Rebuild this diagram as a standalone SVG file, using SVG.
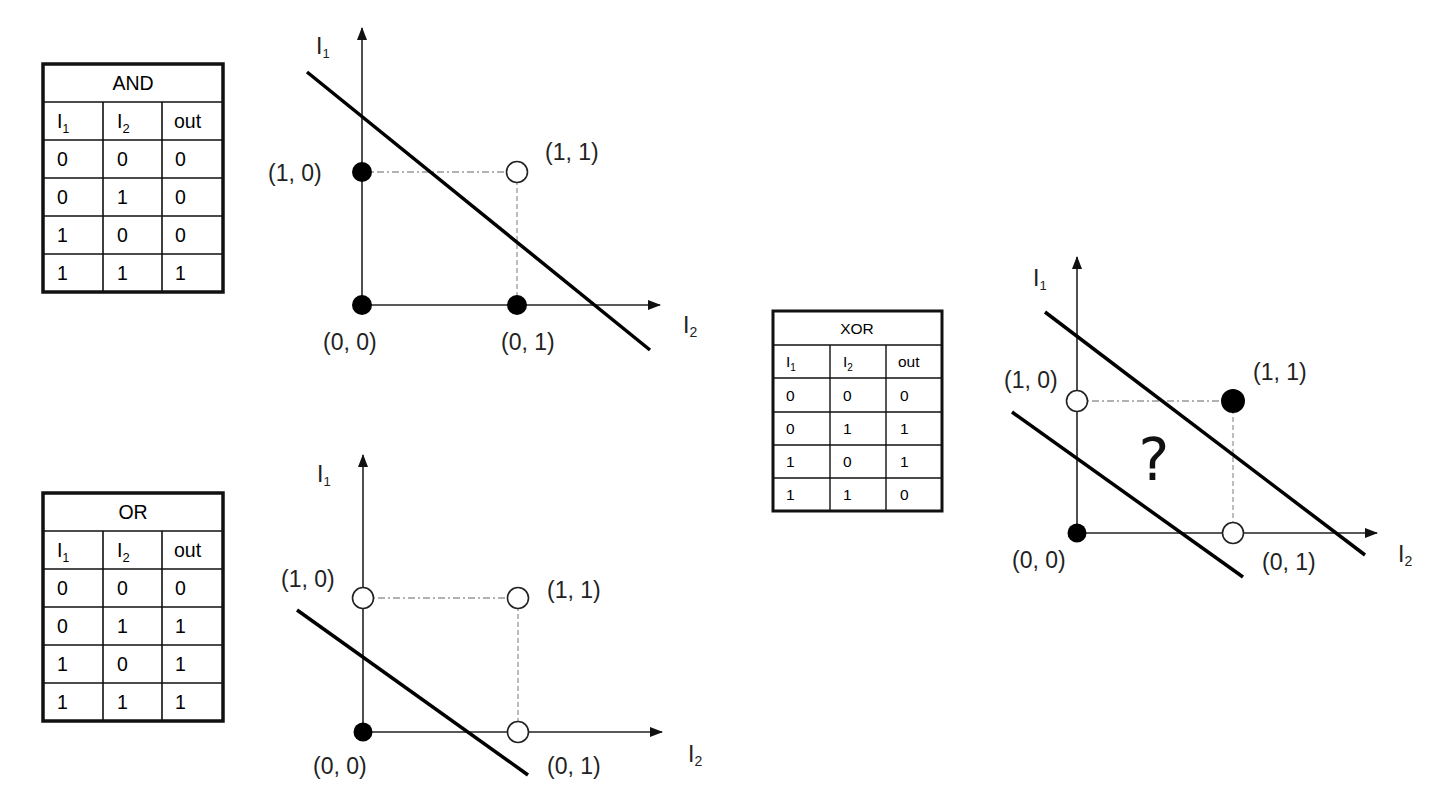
<svg xmlns="http://www.w3.org/2000/svg" width="1434" height="812" viewBox="0 0 1434 812">
<defs>
<marker id="arr" markerWidth="13" markerHeight="10" refX="12" refY="5" orient="auto" markerUnits="userSpaceOnUse">
<path d="M0,0 L13,5 L0,10 Z" fill="#111"/>
</marker>
<style>
.tb{fill:#fff;stroke:#111;stroke-width:3.5}
.tl{stroke:#111;stroke-width:1.6;fill:none}
.tt{font-family:"Liberation Sans",Arial,sans-serif;font-size:19.5px;fill:#000}
.ts{font-family:"Liberation Sans",Arial,sans-serif;font-size:15.5px;fill:#000}
.lab{font-family:"Liberation Sans",Arial,sans-serif;font-size:23px;fill:#222}
.ax{stroke:#222;stroke-width:1.6;fill:none}
.dl{stroke:#000;stroke-width:3.5;fill:none}
.dh{stroke:#999;stroke-width:1.3;stroke-dasharray:7 3 2 3;fill:none}
.dv{stroke:#999;stroke-width:1.3;stroke-dasharray:5 3;fill:none}
.on{fill:#000}
.off{fill:#fff;stroke:#222;stroke-width:1.6}
.q{font-family:"DejaVu Sans",sans-serif;font-size:58px;fill:#111}
</style>
</defs>
<rect width="1434" height="812" fill="#fff"/>

<!-- AND table -->
<g id="and-table">
<rect class="tb" x="43" y="64" width="180" height="228"/>
<path class="tl" d="M43,102H223M43,140H223M43,178H223M43,216H223M43,254H223M103,102V292M162,102V292"/>
<text class="tt" x="133" y="90" text-anchor="middle">AND</text>
<text class="tt" x="57" y="128">I<tspan font-size="12" dy="5">1</tspan></text>
<text class="tt" x="117" y="128">I<tspan font-size="13" dy="5">2</tspan></text>
<text class="tt" x="174" y="128">out</text>
<text class="tt" x="57" y="166">0</text><text class="tt" x="117" y="166">0</text><text class="tt" x="175" y="166">0</text>
<text class="tt" x="57" y="204">0</text><text class="tt" x="117" y="204">1</text><text class="tt" x="175" y="204">0</text>
<text class="tt" x="57" y="242">1</text><text class="tt" x="117" y="242">0</text><text class="tt" x="175" y="242">0</text>
<text class="tt" x="57" y="280">1</text><text class="tt" x="117" y="280">1</text><text class="tt" x="175" y="280">1</text>
</g>

<!-- OR table -->
<g id="or-table">
<rect class="tb" x="43" y="493" width="180" height="228"/>
<path class="tl" d="M43,531H223M43,569H223M43,607H223M43,645H223M43,683H223M103,531V721M162,531V721"/>
<text class="tt" x="133" y="519" text-anchor="middle">OR</text>
<text class="tt" x="57" y="557">I<tspan font-size="12" dy="5">1</tspan></text>
<text class="tt" x="117" y="557">I<tspan font-size="13" dy="5">2</tspan></text>
<text class="tt" x="174" y="557">out</text>
<text class="tt" x="57" y="595">0</text><text class="tt" x="117" y="595">0</text><text class="tt" x="175" y="595">0</text>
<text class="tt" x="57" y="633">0</text><text class="tt" x="117" y="633">1</text><text class="tt" x="175" y="633">1</text>
<text class="tt" x="57" y="671">1</text><text class="tt" x="117" y="671">0</text><text class="tt" x="175" y="671">1</text>
<text class="tt" x="57" y="709">1</text><text class="tt" x="117" y="709">1</text><text class="tt" x="175" y="709">1</text>
</g>

<!-- XOR table -->
<g id="xor-table">
<rect class="tb" x="773" y="311" width="169" height="200" style="stroke-width:3"/>
<path class="tl" style="stroke-width:1.4" d="M773,345H942M773,378H942M773,412H942M773,445H942M773,478H942M830,345V511M886,345V511"/>
<text class="ts" x="857" y="333.5" text-anchor="middle">XOR</text>
<text class="ts" x="786" y="367">I<tspan font-size="10" dy="4">1</tspan></text>
<text class="ts" x="843" y="367">I<tspan font-size="10" dy="4">2</tspan></text>
<text class="ts" x="898" y="367">out</text>
<text class="ts" x="786" y="400.5">0</text><text class="ts" x="843" y="400.5">0</text><text class="ts" x="900" y="400.5">0</text>
<text class="ts" x="786" y="434">0</text><text class="ts" x="843" y="434">1</text><text class="ts" x="900" y="434">1</text>
<text class="ts" x="786" y="467">1</text><text class="ts" x="843" y="467">0</text><text class="ts" x="900" y="467">1</text>
<text class="ts" x="786" y="500">1</text><text class="ts" x="843" y="500">1</text><text class="ts" x="900" y="500">0</text>
</g>

<!-- connectors: axes, guide lines, decision lines -->
<g id="connectors">
<line class="ax" x1="362" y1="305" x2="362" y2="28" marker-end="url(#arr)"/>
<line class="ax" x1="362" y1="305" x2="660" y2="305" marker-end="url(#arr)"/>
<line class="dh" x1="362" y1="172" x2="517" y2="172"/>
<line class="dv" x1="517" y1="172" x2="517" y2="305"/>
<line class="dl" x1="307" y1="72" x2="650" y2="350"/>

<line class="ax" x1="363" y1="732" x2="363" y2="455" marker-end="url(#arr)"/>
<line class="ax" x1="363" y1="732" x2="662" y2="732" marker-end="url(#arr)"/>
<line class="dh" x1="363" y1="598" x2="518" y2="598"/>
<line class="dv" x1="518" y1="598" x2="518" y2="732"/>
<line class="dl" x1="297" y1="610" x2="528" y2="775"/>

<line class="ax" x1="1077" y1="533" x2="1077" y2="257" marker-end="url(#arr)"/>
<line class="ax" x1="1077" y1="533" x2="1377" y2="533" marker-end="url(#arr)"/>
<line class="dh" x1="1077" y1="401" x2="1233" y2="401"/>
<line class="dv" x1="1233" y1="401" x2="1233" y2="533"/>
<line class="dl" x1="1045" y1="312" x2="1365" y2="555"/>
<line class="dl" x1="1012" y1="412" x2="1243" y2="577"/>
</g>

<!-- AND plot -->
<g id="and-plot">
<text class="lab" x="316" y="54" font-size="20">I<tspan font-size="13" dy="4">1</tspan></text>
<text class="lab" x="683" y="333" font-size="20">I<tspan font-size="14" dy="4">2</tspan></text>
<g id="and-00"><circle class="on" cx="362" cy="305" r="10"/><text class="lab" x="323" y="350">(0, 0)</text></g>
<g id="and-10"><circle class="on" cx="362" cy="172" r="10"/><text class="lab" x="268" y="181">(1, 0)</text></g>
<g id="and-11"><circle class="off" cx="517" cy="172" r="10.5"/><text class="lab" x="545" y="160">(1, 1)</text></g>
<g id="and-01"><circle class="on" cx="517" cy="305" r="10"/><text class="lab" x="501" y="350">(0, 1)</text></g>
</g>

<!-- OR plot -->
<g id="or-plot">
<text class="lab" x="317" y="482" font-size="20">I<tspan font-size="13" dy="4">1</tspan></text>
<text class="lab" x="688" y="762" font-size="20">I<tspan font-size="14" dy="4">2</tspan></text>
<g id="or-00"><circle class="on" cx="363" cy="732" r="9.5"/><text class="lab" x="313" y="774">(0, 0)</text></g>
<g id="or-10"><circle class="off" cx="363" cy="598" r="10.5"/><text class="lab" x="281" y="587">(1, 0)</text></g>
<g id="or-11"><circle class="off" cx="518" cy="598" r="10.5"/><text class="lab" x="547" y="598">(1, 1)</text></g>
<g id="or-01"><circle class="off" cx="518" cy="732" r="10.5"/><text class="lab" x="547" y="774">(0, 1)</text></g>
</g>

<!-- XOR plot -->
<g id="xor-plot">
<text class="lab" x="1033" y="286" font-size="20">I<tspan font-size="13" dy="4">1</tspan></text>
<text class="lab" x="1398" y="562" font-size="20">I<tspan font-size="14" dy="4">2</tspan></text>
<g id="xor-00"><circle class="on" cx="1077" cy="533" r="9.5"/><text class="lab" x="1012" y="568">(0, 0)</text></g>
<g id="xor-10"><circle class="off" cx="1077" cy="401" r="10.5"/><text class="lab" x="1004" y="388">(1, 0)</text></g>
<g id="xor-11"><circle class="on" cx="1233" cy="401" r="12"/><text class="lab" x="1253" y="380">(1, 1)</text></g>
<g id="xor-01"><circle class="off" cx="1233" cy="533" r="10.5"/><text class="lab" x="1262" y="570">(0, 1)</text></g>
<text class="q" x="1154" y="480" text-anchor="middle">?</text>
</g>
</svg>
